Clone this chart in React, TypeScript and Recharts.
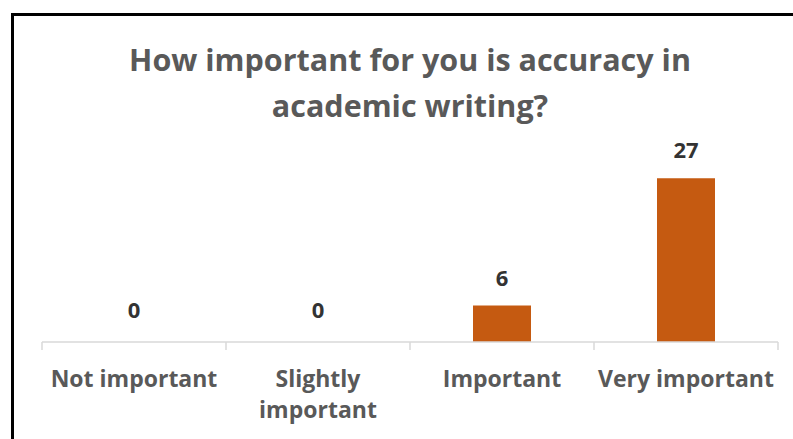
import { BarChart, Bar, XAxis, YAxis, LabelList, Rectangle } from 'recharts';

const categories = ['Not important', 'Slightly important', 'Important', 'Very important'];
const counts = [0, 0, 6, 27];
const titleLines = ['How important for you is accuracy in', 'academic writing?'];

const chartData = categories.map((name, i) => ({ name, count: counts[i] }));

const W = 793;
const H = 439;
const margin = { top: 160, right: 15, bottom: 7, left: 42 };
const band = (W - margin.left - margin.right) / categories.length;
const FONT = '"Open Sans", sans-serif';
const TICK_FONT = `700 23px ${FONT}`;

let ctx: CanvasRenderingContext2D | null = null;
const wrap = (label: string, maxWidth: number) => {
  if (!ctx) ctx = document.createElement('canvas').getContext('2d');
  if (!ctx) return [label];
  ctx.font = TICK_FONT;
  const lines: string[] = [];
  let cur = '';
  label.split(' ').forEach((w) => {
    const next = cur ? cur + ' ' + w : w;
    if (cur && ctx!.measureText(next).width > maxWidth) {
      lines.push(cur);
      cur = w;
    } else {
      cur = next;
    }
  });
  if (cur) lines.push(cur);
  return lines;
};

const CategoryTick = (props: any) => {
  const { x, y, payload, index } = props;
  const left = x - band / 2;
  const lines = wrap(String(payload.value), band - 6);
  return (
    <g>
      <line x1={left} y1={y} x2={left} y2={y + 8} stroke="#d9d9d9" strokeWidth={1.5} />
      {index === categories.length - 1 && (
        <line x1={left + band} y1={y} x2={left + band} y2={y + 8} stroke="#d9d9d9" strokeWidth={1.5} />
      )}
      <text textAnchor="middle" fill="#595959" fontFamily={FONT} fontWeight={700} fontSize={23}>
        {lines.map((l, i) => (
          <tspan key={i} x={x} y={y + 45 + i * 31}>
            {l}
          </tspan>
        ))}
      </text>
    </g>
  );
};

// zero bars keep a small invisible height so their labels sit just above the axis
const BarShape = (props: any) => (props.value ? <Rectangle {...props} /> : <g />);

export default function App() {
  return (
    <div style={{ position: 'absolute', left: 0, top: 0, width: W, height: H, background: '#fff' }}>
      <BarChart width={W} height={H} data={chartData} margin={margin}>
        <XAxis
          dataKey="name"
          interval={0}
          height={90}
          tickLine={false}
          tickSize={0}
          tickMargin={0}
          axisLine={{ stroke: '#d9d9d9', strokeWidth: 1.5 }}
          tick={<CategoryTick />}
        />
        <YAxis hide domain={[0, 30]} />
        <Bar
          dataKey="count"
          fill="#c55a11"
          barSize={58}
          minPointSize={4}
          shape={<BarShape />}
          isAnimationActive={false}
        >
          <LabelList
            dataKey="count"
            position="top"
            offset={20}
            fill="#333333"
            fontFamily={FONT}
            fontWeight={700}
            fontSize={22}
          />
        </Bar>
      </BarChart>
      <svg width={W} height={H} style={{ position: 'absolute', left: 0, top: 0, pointerEvents: 'none' }}>
        {titleLines.map((line, i) => (
          <text
            key={line}
            x={410}
            y={71 + i * 46}
            textAnchor="middle"
            fill="#595959"
            fontFamily={FONT}
            fontWeight={700}
            fontSize={30.5}
          >
            {line}
          </text>
        ))}
        <line x1={11} y1={14.5} x2={W} y2={14.5} stroke="#000" strokeWidth={3} />
        <line x1={12.5} y1={13} x2={12.5} y2={H} stroke="#000" strokeWidth={3} />
      </svg>
    </div>
  );
}
